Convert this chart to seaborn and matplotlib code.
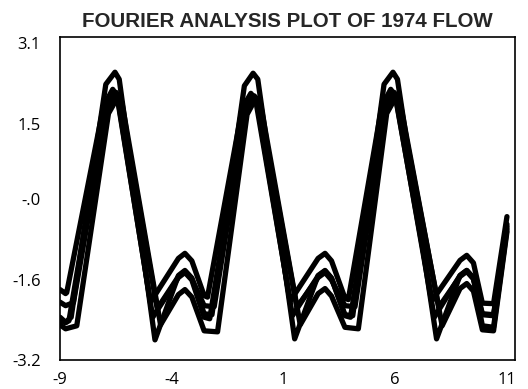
import matplotlib
matplotlib.use("Agg")
import matplotlib.pyplot as plt
import seaborn as sns
import pandas as pd

# Digitised vertices of the five curves (x, y)
x_1 = [-9.0, -8.75, -8.5, -6.95, -6.54, -6.35, -4.75, -3.7, -3.41, -3.1, -2.55, -2.2,
       -0.75, -0.36, -0.15, 1.5, 2.55, 2.86, 3.15, 3.75, 4.1, 5.5, 5.9, 6.1,
       7.85, 8.9, 9.2, 9.5, 9.9, 10.4, 11.0]
y_1 = [-2.35, -2.45, -2.35, 2.28, 2.52, 2.38, -2.80, -1.52, -1.42, -1.57, -2.28, -2.30,
       2.25, 2.50, 2.38, -2.78, -1.52, -1.42, -1.57, -2.30, -2.32, 2.28, 2.52, 2.38,
       -2.78, -1.52, -1.42, -1.57, -2.30, -2.32, -0.55]

x_2 = [-9.0, -8.75, -8.7, -7.05, -6.64, -6.45, -4.95, -3.7, -3.41, -3.1, -2.55, -2.4,
       -0.85, -0.46, -0.25, 1.3, 2.55, 2.86, 3.15, 3.75, 3.9, 5.4, 5.8, 6.0,
       7.65, 8.9, 9.2, 9.5, 9.9, 10.4, 11.0]
y_2 = [-1.80, -1.88, -1.86, 1.85, 2.18, 2.05, -2.05, -1.18, -1.08, -1.23, -1.92, -1.95,
       1.80, 2.10, 1.98, -2.03, -1.18, -1.08, -1.23, -1.97, -2.00, 1.85, 2.18, 2.05,
       -2.02, -1.22, -1.12, -1.27, -2.07, -2.08, -0.35]

x_3 = [-9.0, -8.75, -8.4, -6.9, -6.49, -6.3, -4.65, -3.7, -3.41, -3.1, -2.55, -2.1,
       -0.7, -0.31, -0.1, 1.6, 2.55, 2.86, 3.15, 3.75, 4.2, 5.55, 5.95, 6.15,
       7.95, 8.9, 9.2, 9.5, 9.9, 10.4, 11.0]
y_3 = [-2.05, -2.12, -2.06, 1.75, 2.12, 2.00, -2.18, -1.54, -1.44, -1.59, -2.12, -2.14,
       1.72, 2.05, 1.95, -2.15, -1.56, -1.46, -1.61, -2.12, -2.14, 1.75, 2.12, 2.00,
       -2.15, -1.54, -1.44, -1.59, -2.28, -2.30, -0.50]

x_4 = [-9.0, -8.75, -8.25, -6.83, -6.42, -6.23, -4.5, -3.7, -3.41, -3.1, -2.55, -1.95,
       -0.63, -0.24, -0.03, 1.75, 2.55, 2.86, 3.15, 3.75, 4.35, 5.62, 6.02, 6.22,
       8.1, 8.9, 9.2, 9.5, 9.9, 10.4, 11.0]
y_4 = [-2.50, -2.58, -2.52, 1.70, 2.02, 1.92, -2.50, -1.90, -1.80, -1.95, -2.62, -2.64,
       1.68, 2.00, 1.90, -2.50, -1.88, -1.78, -1.93, -2.55, -2.58, 1.70, 2.02, 1.92,
       -2.52, -1.78, -1.68, -1.83, -2.60, -2.62, -0.65]

x_5 = [-9.0, -8.75, -8.6, -7.0, -6.59, -6.4, -4.85, -3.7, -3.41, -3.1, -2.55, -2.3,
       -0.8, -0.41, -0.2, 1.4, 2.55, 2.86, 3.15, 3.75, 4.0, 5.45, 5.85, 6.05,
       7.75, 8.9, 9.2, 9.5, 9.9, 10.4, 11.0]
y_5 = [-2.40, -2.46, -2.42, 1.78, 2.08, 1.96, -2.35, -1.56, -1.46, -1.61, -2.35, -2.38,
       1.75, 2.06, 1.96, -2.32, -1.53, -1.43, -1.58, -2.32, -2.35, 1.78, 2.08, 1.96,
       -2.35, -1.52, -1.42, -1.57, -2.52, -2.55, -0.60]

y_ticks = [3.1, 1.5, 0.0, -1.6, -3.2]
y_tick_labels = ["3.1", "1.5", "-.0", "-1.6", "-3.2"]
x_ticks = [-9, -4, 1, 6, 11]
x_tick_labels = ["-9", "-4", "1", "6", "11"]
title = "FOURIER ANALYSIS PLOT OF 1974 FLOW"

curves = [(x_1, y_1), (x_2, y_2), (x_3, y_3), (x_4, y_4), (x_5, y_5)]
rows = []
for i, (xs, ys) in enumerate(curves):
    for k, (xv, yv) in enumerate(zip(xs, ys)):
        rows.append({"x": xv, "y": yv, "curve": i, "order": k})
df = pd.DataFrame(rows)

sns.set_style("white")
plt.rcParams["font.family"] = ["Open Sans", "DejaVu Sans"]

fig = plt.figure(figsize=(5.28, 3.89), dpi=100)
ax = fig.add_axes([60 / 528, 1 - 360 / 389, (515 - 60) / 528, (360 - 37) / 389])

sns.lineplot(data=df, x="x", y="y", units="curve", estimator=None, sort=False,
             color="black", linewidth=3.8, ax=ax, legend=False)
for line in ax.lines:
    line.set_solid_joinstyle("round")
    line.set_solid_capstyle("round")

ax.set_xlim(-9, 11.36)
ax.set_ylim(-3.2, 3.22)
ax.set_xticks(x_ticks)
ax.set_xticklabels(x_tick_labels)
ax.set_yticks(y_ticks)
ax.set_yticklabels(y_tick_labels)
ax.set_xlabel("")
ax.set_ylabel("")

for s in ax.spines.values():
    s.set_visible(True)
    s.set_color("black")
    s.set_linewidth(1.2)

ax.tick_params(axis="both", direction="in", length=8, width=1.2, colors="black",
               labelsize=12)
ax.tick_params(axis="y", pad=14)
ax.tick_params(axis="x", pad=9)

ax.set_title(title, fontsize=14.8, fontweight="bold", family="Liberation Sans", pad=7)

fig.savefig("out.png", dpi=100)
